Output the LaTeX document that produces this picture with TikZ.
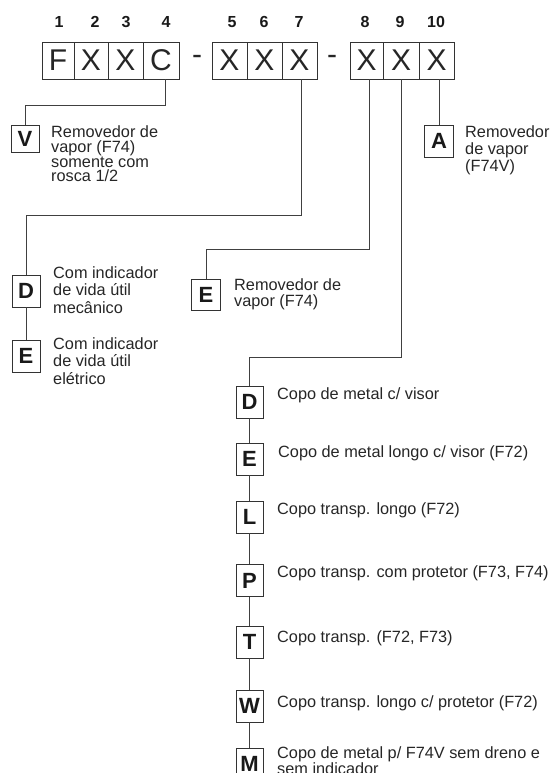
\documentclass[tikz,border=0pt]{standalone}
\usepackage{fontspec}
\setmainfont{Liberation Sans}
\begin{document}
\begin{tikzpicture}[x=1pt,y=-1pt,
  ln/.style={draw=black!75, line width=0.8pt},
  digit/.style={font=\fontsize{16}{16}\selectfont\bfseries, text=black!90, inner sep=0},
  cell/.style={draw=black!80, line width=0.8pt, minimum height=37pt, inner sep=0, text=black!85, font=\fontsize{30}{30}\selectfont},
  sep/.style={inner sep=0, text=black!85, font=\fontsize{30}{30}\selectfont},
  keybox/.style={draw=black!80, line width=0.8pt, fill=white, minimum width=28pt, minimum height=32pt, inner sep=0, text=black!90, font=\fontsize{22}{22}\selectfont\bfseries},
  desc/.style={inner sep=0, align=left, anchor=west, text=black!85, font=\fontsize{16.3}{17}\selectfont},
]
\useasboundingbox (0,0) rectangle (555,773);
\clip (0,0) rectangle (555,773);

% position numbers
\node[digit] (n1) at (59,22) {1};
\node[digit] (n2) at (95,22) {2};
\node[digit] (n3) at (126,22) {3};
\node[digit] (n4) at (166,22) {4};
\node[digit] (n5) at (232,22) {5};
\node[digit] (n6) at (264,22) {6};
\node[digit] (n7) at (299,22) {7};
\node[digit] (n8) at (365,22) {8};
\node[digit] (n9) at (400,22) {9};
\node[digit] (n10) at (436,22) {10};

% code cells
\node[cell, minimum width=32pt] (c1) at (58,60.5) {F};
\node[cell, minimum width=34pt] (c2) at (91,60.5) {X};
\node[cell, minimum width=35pt] (c3) at (125.5,60.5) {X};
\node[cell, minimum width=36pt] (c4) at (161,60.5) {C};
\node[sep] (d1) at (197,60) {-};
\node[cell, minimum width=35pt] (c5) at (229.5,60.5) {X};
\node[cell, minimum width=35pt] (c6) at (264.5,60.5) {X};
\node[cell, minimum width=35pt] (c7) at (299.5,60.5) {X};
\node[sep] (d2) at (332,60) {-};
\node[cell, minimum width=33pt] (c8) at (366.5,60.5) {X};
\node[cell, minimum width=36pt] (c9) at (401,60.5) {X};
\node[cell, minimum width=35pt] (c10) at (436.5,60.5) {X};

% option boxes
\node[keybox, minimum height=27pt] (V) at (25,138.5) {V};
\node[keybox] (LD) at (26,291) {D};
\node[keybox] (LE) at (26,356) {E};
\node[keybox, minimum width=29pt, minimum height=31pt] (ME) at (206,294.5) {E};
\node[keybox, minimum width=29pt] (A) at (439,141) {A};
\node[keybox, minimum width=27pt] (RD) at (249.5,402) {D};
\node[keybox, minimum width=27pt] (RE) at (249.5,459) {E};
\node[keybox, minimum width=27pt] (RL) at (249.5,517) {L};
\node[keybox, minimum width=27pt] (RP) at (249.5,580.5) {P};
\node[keybox, minimum width=27pt] (RT) at (249.5,642) {T};
\node[keybox, minimum width=27pt] (RW) at (249.5,706) {W};
\node[keybox, minimum width=27pt] (RM) at (249.5,764) {M};

% descriptions
\node[desc, font=\fontsize{16.3}{14.7}\selectfont] (Vt) at (51,154) {Removedor de\\vapor (F74)\\somente com\\rosca 1/2};
\node[desc, font=\fontsize{16.3}{17.5}\selectfont] (LDt) at (53,290) {Com indicador\\de vida útil\\mecânico};
\node[desc, font=\fontsize{16.3}{17.5}\selectfont] (LEt) at (53,361) {Com indicador\\de vida útil\\elétrico};
\node[desc, font=\fontsize{16.3}{15.5}\selectfont] (MEt) at (234,294.5) {Removedor de\\vapor (F74)};
\node[desc, font=\fontsize{16.3}{17}\selectfont] (At) at (465,150) {Removedor\\de vapor\\(F74V)};
\node[desc] (RDt) at (277,395) {Copo de metal c/ visor};
\node[desc] (REt) at (278,453) {Copo de metal longo c/ visor (F72)};
\node[desc] (RLt) at (277,510) {Copo transp. longo (F72)};
\node[desc] (RPt) at (277,573) {Copo transp. com protetor (F73, F74)};
\node[desc] (RTt) at (277,638) {Copo transp. (F72, F73)};
\node[desc] (RWt) at (277,703) {Copo transp. longo c/ protetor (F72)};
\node[desc, font=\fontsize{16.3}{15}\selectfont] (RMt) at (277,760.5) {Copo de metal p/ F74V sem dreno e\\sem indicador};

% connectors
\draw[ln] ([xshift=4pt]c4.south) -- ++(0,26) -| (V.north);
\draw[ln] ([xshift=1.5pt]c7.south) -- ++(0,136) -| (LD.north);
\draw[ln] (LD) -- (LE);
\draw[ln] ([xshift=2.5pt]c8.south) -- ++(0,170) -| (ME.north);
\draw[ln] (c9.south) -- ++(0,278) -| ([xshift=-0.5pt]RD.north);
\draw[ln] ([xshift=2.5pt]c10.south) -- (A.north);
\draw[ln] (RD) -- (RE) -- (RL) -- (RP) -- (RT) -- (RW) -- (RM);
\end{tikzpicture}
\end{document}
